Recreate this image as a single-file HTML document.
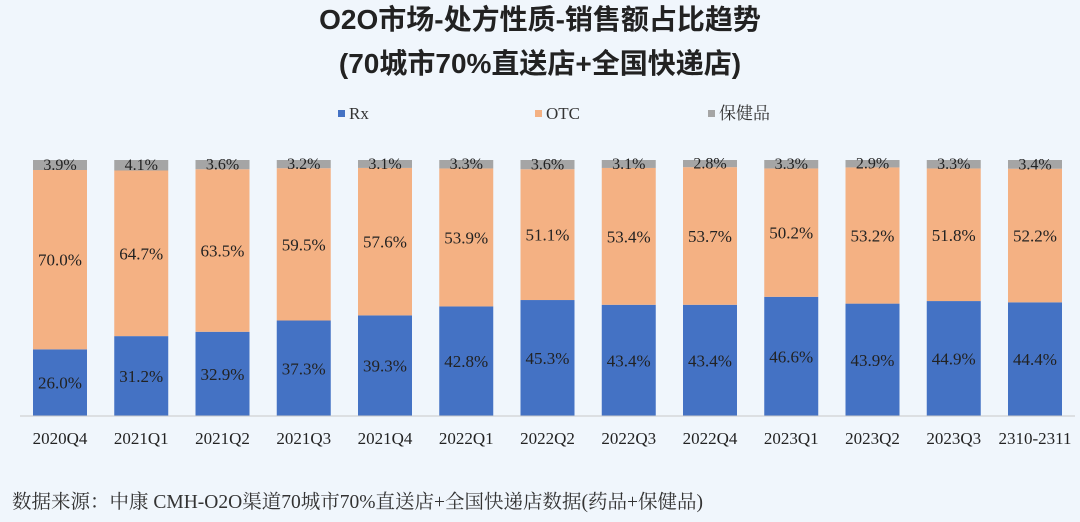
<!DOCTYPE html>
<html><head><meta charset="utf-8">
<style>
body{margin:0;background:#f0f6fc;}
svg{display:block;}
</style></head>
<body>
<svg id="chart" width="1080" height="522" viewBox="0 0 1080 522" xmlns="http://www.w3.org/2000/svg">
<rect width="1080" height="522" fill="#f0f6fc"/>
<text x="540" y="29" text-anchor="middle" font-family="Liberation Sans, Noto Sans CJK SC, sans-serif" font-weight="bold" font-size="28" fill="#222">O2O市场-处方性质-销售额占比趋势</text>
<text x="540" y="73" text-anchor="middle" font-family="Liberation Sans, Noto Sans CJK SC, sans-serif" font-weight="bold" font-size="28" fill="#222">(70城市70%直送店+全国快递店)</text>
<g font-family="Liberation Serif, Noto Serif CJK SC, serif" font-size="17" fill="#333">
<rect x="338" y="110" width="7" height="7" fill="#4472c4"/>
<text x="349" y="119">Rx</text>
<rect x="535" y="110" width="7" height="7" fill="#f4b183"/>
<text x="546" y="119">OTC</text>
<rect x="708" y="110" width="7" height="7" fill="#a5a5a5"/>
<text x="719" y="119">保健品</text>
</g>
<g id="plot"></g>
<line x1="20" y1="416" x2="1075" y2="416" stroke="#c8c8c8" stroke-width="1"/>
<text x="12" y="508" font-family="Liberation Serif, Noto Serif CJK SC, serif" font-size="19.5" fill="#333">数据来源：中康 CMH-O2O渠道70城市70%直送店+全国快递店数据(药品+保健品)</text>
</svg>
<script>
const categories=["2020Q4","2021Q1","2021Q2","2021Q3","2021Q4","2022Q1","2022Q2","2022Q3","2022Q4","2023Q1","2023Q2","2023Q3","2310-2311"];
const rxValues=[26.0,31.2,32.9,37.3,39.3,42.8,45.3,43.4,43.4,46.6,43.9,44.9,44.4];
const otcValues=[70.0,64.7,63.5,59.5,57.6,53.9,51.1,53.4,53.7,50.2,53.2,51.8,52.2];
const healthValues=[3.9,4.1,3.6,3.2,3.1,3.3,3.6,3.1,2.8,3.3,2.9,3.3,3.4];

const NS="http://www.w3.org/2000/svg";
const g=document.getElementById('plot');
const x0=60, step=81.25, bw=54, yBase=416, yTop=160;
const xPos=i=>x0+i*step;
const yScale=v=>(yBase-yTop)*v/100;
function rect(x,y,w,h,fill){const r=document.createElementNS(NS,'rect');r.setAttribute('x',x);r.setAttribute('y',y);r.setAttribute('width',w);r.setAttribute('height',Math.max(0,h));r.setAttribute('fill',fill);g.appendChild(r);return r;}
function text(x,y,s,size){const t=document.createElementNS(NS,'text');t.setAttribute('x',x);t.setAttribute('y',y);t.setAttribute('text-anchor','middle');t.setAttribute('font-family','Liberation Serif, serif');t.setAttribute('font-size',size);t.setAttribute('fill','#222');t.textContent=s;g.appendChild(t);return t;}
categories.forEach((c,i)=>{
  const cx=xPos(i), tot=rxValues[i]+otcValues[i]+healthValues[i];
  const hr=yScale(rxValues[i]*100/tot), ho=yScale(otcValues[i]*100/tot), hh=yScale(healthValues[i]*100/tot);
  const yr=yBase-hr, yo=yr-ho, yh=yo-hh;
  let r=rect(cx-bw/2,yr,bw,hr,'#4472c4');
  
  
  r=rect(cx-bw/2,yo,bw,ho,'#f4b183');
  
  
  r=rect(cx-bw/2,yh,bw,hh,'#a5a5a5');
  
  
  let t=text(cx,yr+hr/2+6,rxValues[i].toFixed(1)+'%',17);
  
  
  t=text(cx,yo+ho/2+6,otcValues[i].toFixed(1)+'%',17);
  
  
  t=text(cx,yh+hh/2+5,healthValues[i].toFixed(1)+'%',16);
  
  
  t=text(cx,444,c,17);
  
  
});
</script>
</body></html>
